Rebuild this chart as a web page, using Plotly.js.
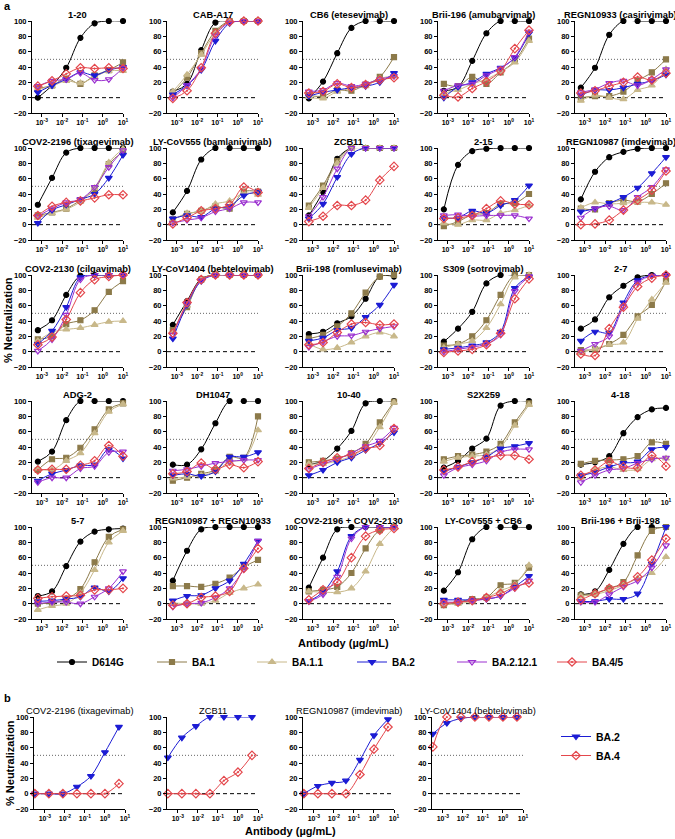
<!DOCTYPE html>
<html><head><meta charset="utf-8">
<script src="https://cdn.plot.ly/plotly-3.0.1.min.js"></script>
<style>html,body{margin:0;padding:0;background:#fff}#chart{width:675px;height:839px}</style>
</head><body><div id="chart"></div>
<script>
// ---------- DATA ----------
const concA = [0.00064, 0.0032, 0.016, 0.08, 0.4, 2, 10];
const concB = [0.00032, 0.0016, 0.008, 0.04, 0.2, 1, 5];
const variantsA = ['D614G', 'BA.1', 'BA.1.1', 'BA.2', 'BA.2.12.1', 'BA.4/5'];
const variantsB = ['BA.2', 'BA.4'];
const titlesA = ['1-20', 'CAB-A17', 'CB6 (etesevimab)', 'Brii-196 (amubarvimab)', 'REGN10933 (casirivimab)',
  'COV2-2196 (tixagevimab)', 'LY-CoV555 (bamlanivimab)', 'ZCB11', '2-15', 'REGN10987 (imdevimab)',
  'COV2-2130 (cilgavimab)', 'LY-CoV1404 (bebtelovimab)', 'Brii-198 (romlusevimab)', 'S309 (sotrovimab)', '2-7',
  'ADG-2', 'DH1047', '10-40', 'S2X259', '4-18',
  '5-7', 'REGN10987 + REGN10933', 'COV2-2196 + COV2-2130', 'LY-CoV555 + CB6', 'Brii-196 + Brii-198'];
const titlesB = ['COV2-2196 (tixagevimab)', 'ZCB11', 'REGN10987 (imdevimab)', 'LY-CoV1404 (bebtelovimab)'];
const xTickVals = [0.001, 0.01, 0.1, 1, 10];
const xTickText = ['10<sup>-3</sup>', '10<sup>-2</sup>', '10<sup>-1</sup>', '10<sup>0</sup>', '10<sup>1</sup>'];
const yTickVals = [-20, 0, 20, 40, 60, 80, 100];
const zeroLine = 0, halfLine = 50;

const d614g = [
  [0, 16, 39, 78, 97, 100, 100], [8, 18, 62, 98, 100, 100, 100], [-1, 21, 58, 91, 100, 100, 100], [9, 14, 48, 84, 100, 100, 100], [13, 39, 82, 100, 100, 100, 100],
  [26, 61, 94, 100, 100, 100, 100], [16, 44, 85, 100, 100, 100, 100], [12, 43, 86, 100, 100, 100, 100], [20, 78, 96, 99, 100, 100, 100], [33, 69, 88, 95, 99, 100, 100],
  [28, 41, 74, 99, 100, 100, 100], [35, 66, 95, 100, 100, 100, 100], [23, 26, 37, 46, 69, 98, 98], [13, 30, 52, 89, 100, 100, 100], [30, 42, 71, 86, 97, 100, 100],
  [21, 34, 75, 100, 100, 100, 100], [17, 17, 37, 71, 100, 100, 100], [17, 22, 38, 61, 97, 100, 100], [13, 22, 38, 51, 94, 100, 100], [17, 20, 28, 58, 79, 89, 91],
  [10, 16, 49, 81, 94, 97, 98], [30, 69, 97, 100, 100, 100, 100], [21, 60, 97, 100, 100, 100, 100], [17, 41, 84, 100, 100, 100, 100], [12, 16, 44, 78, 100, 100, 100]];
const ba1 = [
  [12, 16, 25, 18, 29, 36, 46], [6, 26, 58, 87, 100, 100, 100], [3, 2, 10, 9, 17, 27, 53], [18, 15, 27, 18, 33, 48, 77], [0, 2, 2, 8, 22, 33, 50],
  [12, 16, 21, 32, 46, 79, 95], [7, 14, 18, 24, 21, 43, 43], [25, 51, 83, 100, 100, 100, 100], [-2, 4, 13, 15, 27, 28, 40], [21, 20, 28, 32, 30, 40, 54],
  [16, 20, 36, 41, 54, 78, 92], [28, 58, 94, 100, 100, 100, 100], [17, 22, 33, 50, 77, 98, 100], [8, 10, 20, 41, 74, 100, 100], [2, 3, 10, 22, 46, 61, 92],
  [10, 24, 26, 39, 63, 89, 97], [-4, 0, 5, 10, 27, 26, 80], [20, 22, 25, 32, 44, 72, 99], [24, 28, 30, 34, 44, 72, 97], [18, 22, 23, 24, 28, 46, 44],
  [0, 1, 6, 19, 54, 87, 97], [23, 23, 22, 26, 34, 48, 57], [16, 18, 22, 40, 72, 96, 100], [-2, 2, 6, 8, 24, 27, 47], [11, 13, 20, 28, 63, 95, 100]];
const ba11 = [
  [11, 15, 22, 19, 27, 35, 35], [8, 30, 56, 84, 99, 100, 100], [1, -1, 8, 12, 15, 25, 28], [6, 10, 18, 24, 34, 46, 74], [-4, 3, 0, -2, 10, 16, 37],
  [9, 15, 20, 30, 48, 81, 99], [6, 15, 17, 27, 31, 41, 39], [22, 48, 80, 99, 100, 100, 100], [2, 0, 6, 6, 15, 19, 25], [22, 29, 27, 28, 29, 29, 26],
  [14, 25, 29, 31, 35, 39, 40], [25, 60, 94, 100, 100, 100, 100], [10, 3, 5, 12, 20, 25, 20], [5, 10, 14, 31, 62, 97, 100], [-2, 4, 9, 12, 43, 68, 90],
  [12, 10, 22, 32, 58, 86, 96], [-1, 1, 3, 8, 21, 24, 62], [18, 18, 22, 28, 40, 66, 98], [21, 26, 28, 30, 40, 68, 95], [0, 10, 14, 10, 11, 24, 25],
  [-8, -3, 0, 14, 44, 80, 95], [1, 0, 0, 4, 14, 20, 25], [16, 15, 15, 20, 42, 78, 99], [-1, 0, 3, 8, 17, 25, 50], [10, 12, 17, 24, 33, 40, 61]];
const ba2 = [
  [7, 16, 24, 33, 29, 36, 40], [4, 16, 36, 74, 97, 100, 100], [2, 7, 10, 13, 15, 20, 32], [0, 14, 20, 31, 39, 52, 84], [3, 10, 10, 13, 18, 22, 30],
  [2, 19, 26, 33, 40, 61, 91], [8, 12, 10, 21, 24, 38, 43], [8, 27, 62, 92, 100, 100, 100], [9, 9, 18, 15, 25, 32, 51], [17, 21, 28, 36, 48, 67, 88],
  [10, 27, 58, 97, 100, 100, 100], [17, 61, 92, 100, 100, 100, 100], [14, 18, 28, 31, 45, 61, 87], [3, 5, 8, 12, 26, 83, 98], [14, 26, 25, 64, 93, 99, 100],
  [-4, 5, 10, 16, 17, 37, 25], [3, 5, 2, 8, 27, 27, 33], [3, 10, 20, 26, 36, 45, 59], [8, 14, 20, 27, 38, 41, 45], [3, 7, 14, 19, 21, 37, 40],
  [3, 4, 6, 9, 21, 16, 33], [4, 10, 11, 20, 30, 52, 82], [3, 15, 42, 88, 100, 100, 100], [5, 5, 5, 6, 10, 22, 36], [3, 3, 6, 6, 13, 52, 100]];
const ba2121 = [
  [15, 22, 24, 32, 23, 24, 39], [0, 16, 38, 81, 98, 100, 100], [8, 10, 19, 15, 18, 24, 28], [9, 16, 18, 29, 38, 53, 86], [7, 11, 19, 22, 16, 24, 37],
  [11, 21, 29, 33, 49, 75, 97], [2, 6, 9, 17, 21, 29, 29], [11, 36, 73, 100, 100, 100, 100], [12, 13, 11, 12, 12, 12, 8], [9, 21, 24, 19, 36, 49, 72],
  [1, 16, 48, 94, 100, 100, 100], [22, 63, 93, 100, 100, 100, 100], [6, 13, 20, 21, 26, 30, 33], [0, 3, 6, 10, 22, 79, 98], [1, 10, 20, 59, 90, 99, 100],
  [-6, 0, 0, 12, 15, 33, 34], [9, 11, 15, 19, 21, 23, 23], [11, 18, 24, 32, 41, 48, 65], [3, 13, 17, 22, 33, 37, 37], [-6, 3, 10, 12, 19, 24, 26],
  [0, 2, 2, 0, 9, 20, 42], [-4, 0, 1, 8, 20, 45, 82], [3, 12, 35, 85, 100, 100, 100], [2, 2, 4, 6, 10, 20, 30], [2, 2, 12, 22, 30, 47, 76]];
const ba45 = [
  [15, 22, 31, 39, 38, 39, 38], [-1, 9, 39, 84, 99, 100, 100], [6, 8, 18, 13, 17, 23, 26], [3, 1, 12, 21, 35, 64, 88], [6, 9, 15, 20, 27, 23, 32],
  [12, 24, 29, 31, 35, 39, 39], [1, 9, 18, 21, 26, 49, 42], [4, 11, 25, 25, 32, 58, 76], [8, 9, 12, 21, 31, 27, 26], [0, 1, 6, 19, 32, 45, 70],
  [9, 19, 42, 77, 94, 98, 100], [24, 64, 94, 100, 100, 100, 100], [9, 12, 25, 36, 38, 35, 36], [-1, 1, 3, 9, 24, 69, 95], [-3, -5, 30, 58, 85, 96, 100],
  [10, 11, 11, 16, 22, 42, 28], [5, 8, 19, 11, 17, 13, 21], [12, 20, 26, 30, 38, 42, 64], [10, 14, 21, 26, 29, 29, 24], [3, 10, 21, 14, 13, 29, 15],
  [7, 9, 10, 11, 18, 18, 20], [-2, 0, 8, 10, 16, 46, 72], [5, 18, 28, 60, 88, 96, 98], [0, 2, 4, 8, 13, 22, 27], [5, 13, 20, 25, 35, 57, 85]];
const bBA2 = [[0, 0, 0, 9, 23, 54, 87], [47, 73, 88, 100, 100, 100, 100], [0, 10, 14, 17, 44, 76, 97], [78, 92, 98, 100, 100, 100, 100]];
const bBA4 = [[0, 0, 0, 0, 0, 0, 13], [0, 0, 0, 0, 17, 28, 50], [0, 0, 0, 0, 25, 58, 87], [61, 100, 100, 100, 100, 100, 100]];

// ---------- STYLE / LAYOUT ----------
const W = 675, H = 839;
const FONT = '"Liberation Sans", Arial, Helvetica, sans-serif';
const seriesA = [d614g, ba1, ba11, ba2, ba2121, ba45];
const COLORS = ['#000000', '#8c7a4a', '#c8b88a', '#1c1cd4', '#9b30d0', '#e4474c'];
const SYMBOLS = ['circle', 'square', 'triangle-up', 'triangle-down', 'triangle-down-open', 'diamond-open-dot'];
const SIZES = [5, 5, 6, 6, 6, 6.5];
const colX = [32, 167, 303, 438, 575];
const rowTop = [21, 148, 275, 401, 527];
const PW = 91, PH = 92;
const colXB = [34, 167, 303, 432];
const topB = 717;
const xRangeA = [Math.log10(0.00033), 1.0];
const xRangeB = [Math.log10(0.00029), 1.0];

const layout = {
  width: W, height: H, margin: {l: 0, r: 0, t: 0, b: 0},
  paper_bgcolor: '#ffffff', plot_bgcolor: 'rgba(0,0,0,0)',
  font: {family: FONT, color: '#000'},
  showlegend: true, annotations: [], shapes: [],
  legend: {orientation: 'h', x: 52 / W, xanchor: 'left', y: 1 - 662 / H, yanchor: 'middle',
    entrywidth: 55, entrywidthmode: 'pixels', itemwidth: 30, bgcolor: 'rgba(0,0,0,0)',
    font: {family: FONT, size: 10, weight: 'bold', color: '#000'}},
  legend2: {orientation: 'v', x: 556 / W, xanchor: 'left', y: 1 - 722 / H, yanchor: 'top',
    itemwidth: 30, bgcolor: 'rgba(0,0,0,0)', tracegroupgap: 0,
    font: {family: FONT, size: 10.5, weight: 'bold', color: '#000'}}
};
const traces = [];

function addPanel(idx, x0, top, title, xr, titleBold) {
  const s = idx === 1 ? '' : String(idx);
  layout['xaxis' + s] = {
    type: 'log', range: xr, domain: [x0 / W, (x0 + PW) / W], anchor: 'y' + s,
    tickvals: xTickVals, ticktext: xTickText, ticks: 'outside', ticklen: 3, tickwidth: 1, tickcolor: '#000',
    showline: true, linecolor: '#000', linewidth: 1, showgrid: false, zeroline: false, fixedrange: true,
    tickfont: {family: FONT, size: 7, weight: 'bold', color: '#000'}
  };
  layout['yaxis' + s] = {
    range: [-20, 100], domain: [1 - (top + PH) / H, 1 - top / H], anchor: 'x' + s,
    tickvals: yTickVals, ticks: 'outside', ticklen: 3, tickwidth: 1, tickcolor: '#000',
    showline: true, linecolor: '#000', linewidth: 1, showgrid: false, zeroline: false, fixedrange: true,
    tickfont: {family: FONT, size: 7.5, weight: 'bold', color: '#000'}
  };
  const xd = 'x' + s + ' domain';
  layout.shapes.push({type: 'line', layer: 'below', xref: xd, x0: 0, x1: 1, yref: 'y' + s, y0: zeroLine, y1: zeroLine,
    line: {color: '#000', width: 1, dash: '4px,3px'}});
  layout.shapes.push({type: 'line', layer: 'below', xref: xd, x0: 0, x1: 1, yref: 'y' + s, y0: halfLine, y1: halfLine,
    line: {color: '#666', width: 1, dash: '1px,2px'}});
  layout.annotations.push({text: title, showarrow: false, xref: xd, x: 0.5, xanchor: 'center',
    yref: 'y' + s + ' domain', y: 1, yanchor: 'bottom', yshift: -1,
    font: {family: FONT, size: 9.3, weight: titleBold ? 'bold' : 'normal', color: '#000'}});
  return s;
}

for (let p = 0; p < 25; p++) {
  const r = Math.floor(p / 5), c = p % 5;
  const s = addPanel(p + 1, colX[c], rowTop[r], titlesA[p], xRangeA, true);
  for (let v = 0; v < 6; v++) {
    traces.push({
      type: 'scatter', mode: 'lines+markers', x: concA, y: seriesA[v][p], name: variantsA[v],
      xaxis: 'x' + s, yaxis: 'y' + s, cliponaxis: false, showlegend: p === 0, legend: 'legend',
      line: {color: COLORS[v], width: 1, shape: 'spline', smoothing: 1},
      marker: {symbol: SYMBOLS[v], size: SIZES[v], color: COLORS[v], line: {color: COLORS[v], width: 1.2}}
    });
  }
}
const seriesB = [bBA2, bBA4];
const bColor = [COLORS[3], COLORS[5]], bSym = [SYMBOLS[3], SYMBOLS[5]], bSize = [6, 6.5];
for (let p = 0; p < 4; p++) {
  const s = addPanel(26 + p, colXB[p], topB, titlesB[p], xRangeB, false);
  for (let v = 0; v < 2; v++) {
    traces.push({
      type: 'scatter', mode: 'lines+markers', x: concB, y: seriesB[v][p], name: variantsB[v],
      xaxis: 'x' + s, yaxis: 'y' + s, cliponaxis: false, showlegend: p === 0, legend: 'legend2',
      line: {color: bColor[v], width: 1, shape: 'spline', smoothing: 1},
      marker: {symbol: bSym[v], size: bSize[v], color: bColor[v], line: {color: bColor[v], width: 1.2}}
    });
  }
}

const bold11 = {family: FONT, size: 11, weight: 'bold', color: '#000'};
layout.annotations.push(
  {text: 'a', showarrow: false, xref: 'paper', yref: 'paper', x: 2 / W, y: 1 - 6 / H, xanchor: 'left', yanchor: 'middle', font: bold11},
  {text: 'b', showarrow: false, xref: 'paper', yref: 'paper', x: 2 / W, y: 1 - 698 / H, xanchor: 'left', yanchor: 'middle', font: bold11},
  {text: '% Neutralization', showarrow: false, textangle: -90, xref: 'paper', yref: 'paper', x: 8 / W, y: 1 - 320 / H, xanchor: 'center', yanchor: 'middle', font: bold11},
  {text: '% Neutralization', showarrow: false, textangle: -90, xref: 'paper', yref: 'paper', x: 10 / W, y: 1 - 763 / H, xanchor: 'center', yanchor: 'middle', font: bold11},
  {text: 'Antibody (µg/mL)', showarrow: false, xref: 'paper', yref: 'paper', x: 343 / W, y: 1 - 643 / H, xanchor: 'center', yanchor: 'middle', font: bold11},
  {text: 'Antibody (µg/mL)', showarrow: false, xref: 'paper', yref: 'paper', x: 290 / W, y: 1 - 831 / H, xanchor: 'center', yanchor: 'middle', font: bold11}
);

Plotly.newPlot('chart', traces, layout, {staticPlot: true, displayModeBar: false});
</script>
</body></html>
